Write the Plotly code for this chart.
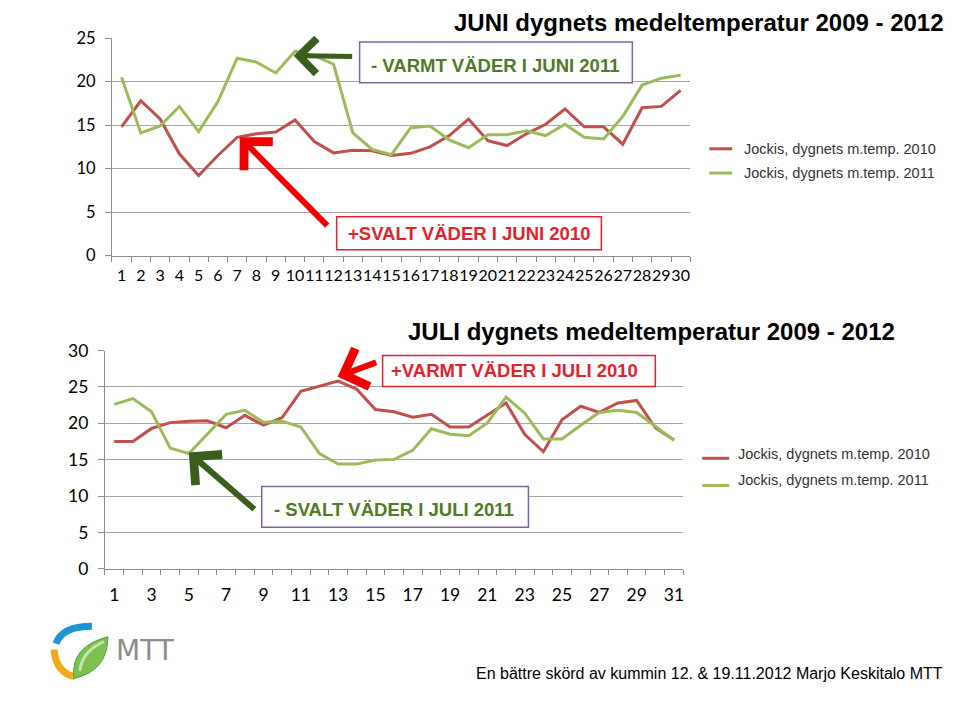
import plotly.graph_objects as go

# ---------------- data ----------------
june_days = list(range(1, 31))
june_2010 = [14.8, 17.8, 15.7, 11.7, 9.2, 11.5, 13.6, 14.0, 14.2, 15.6,
             13.1, 11.8, 12.1, 12.05, 11.5, 11.75, 12.5, 13.8, 15.7, 13.2,
             12.65, 14.0, 15.1, 16.85, 14.8, 14.8, 12.8, 17.0, 17.15, 19.0]
june_2011 = [20.5, 14.1, 14.9, 17.15, 14.25, 17.7, 22.7, 22.25, 21.0, 23.5,
             23.0, 22.0, 14.1, 12.2, 11.6, 14.7, 14.9, 13.3, 12.4, 13.9,
             13.9, 14.35, 13.8, 15.1, 13.6, 13.4, 16.0, 19.6, 20.4, 20.75]

july_days = list(range(1, 32))
july_2010 = [17.5, 17.5, 19.3, 20.1, 20.3, 20.35, 19.4, 21.1, 19.75, 20.8,
             24.4, 25.1, 25.8, 24.7, 21.9, 21.6, 20.85, 21.25, 19.5, 19.5,
             21.15, 22.8, 18.5, 16.1, 20.5, 22.35, 21.5, 22.8, 23.15, 19.4, 17.7]
july_2011 = [22.6, 23.4, 21.6, 16.6, 15.85, 18.6, 21.25, 21.8, 20.15, 20.3,
             19.5, 15.85, 14.4, 14.4, 14.95, 15.05, 16.3, 19.25, 18.5, 18.3,
             20.05, 23.6, 21.4, 17.85, 17.85, 19.75, 21.5, 21.8, 21.5, 19.6, 17.7]

series_names = ["Jockis, dygnets m.temp. 2010", "Jockis, dygnets m.temp. 2011"]
june_ticks = list(range(0, 26, 5))
july_ticks = list(range(0, 31, 5))
july_xlabels = list(range(1, 32, 2))

title_june = "JUNI dygnets medeltemperatur 2009 - 2012"
title_july = "JULI dygnets medeltemperatur 2009 - 2012"
footer = "En bättre skörd av kummin 12. &amp; 19.11.2012 Marjo Keskitalo MTT"

# ---------------- styles ----------------
W, H = 960, 706
RED = "#C0504D"
GREEN = "#9BBB59"
GRID = "#A6A6A6"
AXIS = "#8C8C8C"
BOX_RED = "#E3232C"
BOX_PURPLE = "#8064A2"
TXT_GREEN = "#4F7A28"
ARROW_GREEN = "#3B5E1E"
TICKFONT = "Lato"


def X(px):
    return px / W


def Y(py):
    return 1 - py / H


fig = go.Figure()

for vals, col in [(june_2010, RED), (june_2011, GREEN)]:
    fig.add_trace(go.Scatter(x=june_days, y=vals, mode="lines", xaxis="x", yaxis="y",
                             line=dict(color=col, width=3), showlegend=False))
for vals, col in [(july_2010, RED), (july_2011, GREEN)]:
    fig.add_trace(go.Scatter(x=july_days, y=vals, mode="lines", xaxis="x2", yaxis="y2",
                             line=dict(color=col, width=3), showlegend=False))

common_x = dict(showgrid=False, zeroline=False, showline=True, linecolor=AXIS, linewidth=1,
                ticks="", tickangle=0, fixedrange=True,
                minor=dict(ticks="outside", tick0=0.5, dtick=1, ticklen=5, tickcolor=AXIS,
                           showgrid=False))
common_y = dict(showgrid=True, gridcolor=GRID, gridwidth=1, zeroline=False, showline=True,
                linecolor=AXIS, linewidth=1, ticks="outside", ticklen=6, tickcolor=AXIS,
                ticklabelstandoff=6, fixedrange=True)

fig.update_layout(
    width=W, height=H, autosize=False,
    margin=dict(l=0, r=0, t=0, b=0),
    paper_bgcolor="white", plot_bgcolor="white",
    xaxis=dict(domain=[X(112), X(691)], range=[0.5, 30.5], anchor="y",
               tickmode="array", tickvals=june_days, ticktext=[str(d) for d in june_days],
               ticklabelstandoff=5,
               tickfont=dict(family=TICKFONT, size=16, color="#000"), **common_x),
    yaxis=dict(domain=[Y(252), Y(28)], range=[0, 25], anchor="x",
               tickmode="array", tickvals=june_ticks,
               tickfont=dict(family=TICKFONT, size=16.5, color="#000"), **common_y),
    xaxis2=dict(domain=[X(105), X(684)], range=[0.5, 31.5], anchor="y2",
                tickmode="array", tickvals=july_xlabels, ticktext=[str(d) for d in july_xlabels],
                ticklabelstandoff=10,
                tickfont=dict(family=TICKFONT, size=17.5, color="#000"), **common_x),
    yaxis2=dict(domain=[Y(575), Y(350)], range=[0, 30], anchor="x2",
                tickmode="array", tickvals=july_ticks,
                tickfont=dict(family=TICKFONT, size=17.5, color="#000"), **common_y),
)

shapes = []
annotations = []

# titles
annotations.append(dict(x=X(700), y=Y(12), xref="paper", yref="paper", text="<b>" + title_june + "</b>",
                        showarrow=False, xanchor="center", yanchor="middle",
                        font=dict(family="Liberation Sans", size=24, color="#000")))
annotations.append(dict(x=X(652), y=Y(330), xref="paper", yref="paper", text="<b>" + title_july + "</b>",
                        showarrow=False, xanchor="center", yanchor="middle",
                        font=dict(family="Liberation Sans", size=24, color="#000")))

# callout boxes
boxes = [
    ((360, 32, 633, 74), BOX_PURPLE, "- VARMT VÄDER I JUNI 2011", TXT_GREEN, (496, 56)),
    ((337, 212, 602, 246), BOX_RED, "+SVALT VÄDER I JUNI 2010", BOX_RED, (469, 229)),
    ((383, 355, 656, 387), BOX_RED, "+VARMT VÄDER I JULI 2010", BOX_RED, (515, 371)),
    ((262, 490, 529, 532), BOX_PURPLE, "- SVALT VÄDER I JULI 2011", TXT_GREEN, (394, 514)),
]
for (x0, y0, x1, y1), bc, txt, tc, (cx, cy) in boxes:
    shapes.append(dict(type="rect", xref="paper", yref="paper", x0=X(x0), x1=X(x1), y0=Y(y1), y1=Y(y0),
                       line=dict(color=bc, width=1.5), fillcolor="white", layer="above"))
    annotations.append(dict(x=X(cx), y=Y(cy), xref="paper", yref="paper", text="<b>" + txt + "</b>",
                            showarrow=False, xanchor="center", yanchor="middle",
                            font=dict(family="Liberation Sans", size=18.5, color=tc)))

# arrows (tip, tail, color, width, head size)
arrows = [
    ((294, 46), (354, 47), ARROW_GREEN, 5, 1.35),
    ((240, 130), (329, 220), "#F00000", 6, 1.3),
    ((338, 377), (378, 362), "#F00000", 6, 1.3),
    ((189, 455), (256, 513), ARROW_GREEN, 6, 1.3),
]
for (tx, ty), (sx, sy), col, wd, sz in arrows:
    annotations.append(dict(x=X(tx), y=Y(ty), xref="paper", yref="paper", text="",
                            showarrow=True, ax=sx - tx, ay=sy - ty, axref="pixel", ayref="pixel",
                            arrowhead=4, arrowsize=sz, arrowwidth=wd, arrowcolor=col, standoff=0))

# legends
legends = [
    ((710, 733, 142), (743, 142)),
    ((710, 733, 167), (743, 167)),
    ((703, 730, 461), (737, 457)),
    ((703, 730, 489), (737, 483)),
]
for i, ((lx0, lx1, ly), (tx, ty)) in enumerate(legends):
    col = RED if i % 2 == 0 else GREEN
    shapes.append(dict(type="line", xref="paper", yref="paper", x0=X(lx0), x1=X(lx1), y0=Y(ly), y1=Y(ly),
                       line=dict(color=col, width=3)))
    annotations.append(dict(x=X(tx), y=Y(ty), xref="paper", yref="paper", text=series_names[i % 2],
                            showarrow=False, xanchor="left", yanchor="middle",
                            font=dict(family="Liberation Sans", size=14.5, color="#333")))

# footer
annotations.append(dict(x=X(946), y=Y(683), xref="paper", yref="paper", text=footer,
                        showarrow=False, xanchor="right", yanchor="middle",
                        font=dict(family="Liberation Sans", size=16, color="#000")))

# MTT logo (approximate)
shapes.append(dict(type="path", xref="paper", yref="paper",
                   path=f"M {X(56)},{Y(652)} Q {X(62)},{Y(634)} {X(92)},{Y(634)}",
                   line=dict(color="#1C95D4", width=7)))
shapes.append(dict(type="path", xref="paper", yref="paper",
                   path=f"M {X(54)},{Y(658)} Q {X(56)},{Y(682)} {X(75)},{Y(686)}",
                   line=dict(color="#F4A81C", width=7)))
shapes.append(dict(type="path", xref="paper", yref="paper",
                   path=(f"M {X(74)},{Y(688)} Q {X(70)},{Y(655)} {X(108)},{Y(645)} "
                         f"Q {X(108)},{Y(680)} {X(74)},{Y(688)} Z"),
                   line=dict(color="#4CA23A", width=1), fillcolor="#7CC04F"))
shapes.append(dict(type="path", xref="paper", yref="paper",
                   path=(f"M {X(80)},{Y(680)} Q {X(82)},{Y(660)} {X(104)},{Y(650)}"),
                   line=dict(color="#C6E3A8", width=3)))
annotations.append(dict(x=X(114), y=Y(659), xref="paper", yref="paper", text="MTT",
                        showarrow=False, xanchor="left", yanchor="middle",
                        font=dict(family="DejaVu Sans", size=28, color="#8C8C8C")))

fig.update_layout(shapes=shapes, annotations=annotations)

fig.write_html("out.html")
